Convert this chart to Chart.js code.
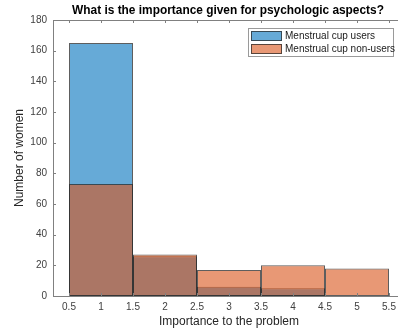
<!DOCTYPE html>
<html>
<head>
<meta charset="utf-8">
<script src="https://cdn.jsdelivr.net/npm/chart.js@4/dist/chart.umd.min.js"></script>
<style>
  html, body { margin: 0; padding: 0; background: #fff; overflow: hidden; width: 398px; height: 332px; }
  #wrap { position: relative; width: 405px; height: 332px; }
</style>
</head>
<body>
<div id="wrap"><canvas id="c" width="405" height="332"></canvas></div>
<script>
// Histogram bins (importance score 1..5) and counts per group
const binCenters = [1, 2, 3, 4, 5];
const cupUsers = [165, 26, 6, 5, 0];
const nonUsers = [73, 27, 17, 20, 18];
const xTickValues = [0.5, 1, 1.5, 2, 2.5, 3, 3.5, 4, 4.5, 5, 5.5];
const yTickValues = [0, 20, 40, 60, 80, 100, 120, 140, 160, 180];

const FONT = "'Liberation Sans', Arial, Helvetica, sans-serif";
const AXIS_COLOR = '#808080';

const toPoints = (vals) => vals.map((v, i) => ({ x: binCenters[i], y: v }));

// Title, top box edge, inward tick marks and the legend box
const decorations = {
  id: 'decorations',
  afterDatasetsDraw(chart) {
    const { ctx, chartArea: a, scales: { x, y } } = chart;
    ctx.save();
    ctx.strokeStyle = AXIS_COLOR;
    ctx.lineWidth = 1;
    ctx.beginPath();
    ctx.moveTo(a.left, a.top + 0.5);
    ctx.lineTo(a.right, a.top + 0.5);
    xTickValues.forEach(v => {
      const px = Math.round(x.getPixelForValue(v)) + 0.5;
      ctx.moveTo(px, a.bottom); ctx.lineTo(px, a.bottom - 3);
      ctx.moveTo(px, a.top); ctx.lineTo(px, a.top + 3);
    });
    yTickValues.forEach(v => {
      const py = Math.round(y.getPixelForValue(v)) + 0.5;
      ctx.moveTo(a.left, py); ctx.lineTo(a.left + 3, py);
    });
    ctx.stroke();

    // title
    ctx.fillStyle = '#000';
    ctx.font = 'bold 11.9px ' + FONT;
    ctx.textAlign = 'center';
    ctx.textBaseline = 'middle';
    ctx.fillText('What is the importance given for psychologic aspects?', 228, 11);

    // legend
    const lx = 248, ly = 28, lw = 146, lh = 29;
    ctx.fillStyle = '#fff';
    ctx.fillRect(lx, ly, lw, lh);
    ctx.strokeStyle = '#9a9a9a';
    ctx.strokeRect(lx + 0.5, ly + 0.5, lw - 1, lh - 1);
    ctx.font = '10px ' + FONT;
    ctx.textAlign = 'left';
    chart.data.datasets.forEach((ds, i) => {
      const ry = ly + 3 + i * 13;
      ctx.fillStyle = '#fff';
      ctx.fillRect(lx + 3, ry, 31, 10);
      ctx.fillStyle = ds.backgroundColor;
      ctx.fillRect(lx + 3, ry, 31, 10);
      ctx.strokeStyle = 'rgba(40,40,40,0.75)';
      ctx.strokeRect(lx + 3.5, ry + 0.5, 30, 9);
      ctx.fillStyle = '#1a1a1a';
      ctx.fillText(ds.label, lx + 37, ry + 5.5);
    });
    ctx.restore();
  }
};

new Chart(document.getElementById('c'), {
  type: 'bar',
  data: {
    datasets: [
      {
        label: 'Menstrual cup users',
        data: toPoints(cupUsers),
        backgroundColor: 'rgb(102,170,215)',
        borderColor: 'rgba(40,40,40,0.75)',
        borderWidth: 1,
        borderSkipped: false,
        grouped: false,
        order: 1
      },
      {
        label: 'Menstrual cup non-users',
        data: toPoints(nonUsers),
        backgroundColor: 'rgba(217,83,25,0.6)',
        borderColor: 'rgba(40,40,40,0.75)',
        borderWidth: 1,
        borderSkipped: false,
        grouped: false,
        order: 0
      }
    ]
  },
  options: {
    responsive: false,
    animation: false,
    layout: { padding: { top: 20, left: 0, right: 0, bottom: 0 } },
    // ticks sit every half unit, so each bin spans two tick gaps
    datasets: { bar: { barPercentage: 1, categoryPercentage: 2 } },
    plugins: { legend: { display: false }, tooltip: { enabled: false }, title: { display: false } },
    scales: {
      x: {
        type: 'linear',
        offset: false,
        min: 0.25,
        max: 5.75,
        afterBuildTicks: (s) => { s.ticks = xTickValues.map(v => ({ value: v })); },
        afterFit: (s) => { s.height = 36; },
        grid: { display: false, drawTicks: false },
        border: { color: AXIS_COLOR },
        ticks: { padding: 5, color: '#404040', font: { family: FONT, size: 10 }, maxRotation: 0, autoSkip: false,
                 callback: (v) => String(v) },
        title: { display: true, text: 'Importance to the problem', color: '#262626',
                 font: { family: FONT, size: 12, lineHeight: '20px' }, padding: 0 }
      },
      y: {
        min: 0,
        max: 180,
        afterBuildTicks: (s) => { s.ticks = yTickValues.map(v => ({ value: v })); },
        afterFit: (s) => { s.width = 53; },
        grid: { display: false, drawTicks: false },
        border: { color: AXIS_COLOR },
        ticks: { padding: 6, color: '#404040', font: { family: FONT, size: 10 } },
        title: { display: true, text: 'Number of women', color: '#262626',
                 font: { family: FONT, size: 12, lineHeight: '40px' }, padding: 0 }
      }
    }
  },
  plugins: [decorations]
});
</script>
</body>
</html>
